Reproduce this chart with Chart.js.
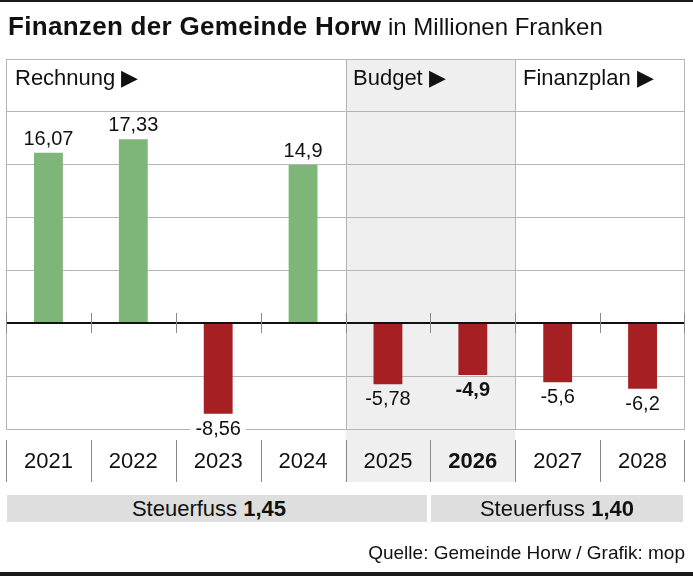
<!DOCTYPE html>
<html>
<head>
<meta charset="utf-8">
<script src="https://cdn.jsdelivr.net/npm/chart.js@4.4.1/dist/chart.umd.min.js"></script>
<style>
  body { margin: 0; background: #fff; font-family: "Liberation Sans", Arial, sans-serif; color: #111; }
  #wrap { position: relative; width: 693px; height: 576px; overflow: hidden; }
  #wrap canvas { position: absolute; left: 0; top: 0; }
  .t { position: absolute; line-height: 1; white-space: nowrap; }
  .rule { position: absolute; left: 0; width: 693px; background: #1a1a1a; }
  .tax { position: absolute; top: 495px; height: 27px; line-height: 27px; background: #dedede; font-size: 22px; text-align: center; }
</style>
</head>
<body>
<div id="wrap">
  <canvas id="myChart"></canvas>
  <div class="rule" style="top:0;height:2px"></div>
  <div class="t" style="left:8px;top:13px;font-size:26px;font-weight:bold;letter-spacing:0.3px">Finanzen der Gemeinde Horw<span style="font-size:24px;font-weight:normal;letter-spacing:0"> in Millionen Franken</span></div>
  <div class="t" id="h0" style="left:15px;top:67px;font-size:22px"></div>
  <div class="t" id="h1" style="left:353px;top:67px;font-size:22px"></div>
  <div class="t" id="h2" style="left:523px;top:67px;font-size:22px"></div>
  <div class="tax" id="tax0" style="left:7px;width:404px;padding-right:16px"></div>
  <div class="tax" id="tax1" style="left:431px;width:252px"></div>
  <div class="t" style="right:8px;top:543px;font-size:19px">Quelle: Gemeinde Horw / Grafik: mop</div>
  <div class="rule" style="top:572px;height:4px"></div>
</div>
<script>
// Finanzen der Gemeinde Horw, in Millionen Franken
const years = ['2021', '2022', '2023', '2024', '2025', '2026', '2027', '2028']
const result = [16.07, 17.33, -8.56, 14.9, -5.78, -4.9, -5.6, -6.2]
const boldYear = '2026'

const sections = ['Rechnung', 'Budget', 'Finanzplan']
const sectionStart = [0, 4, 6]

const taxLabel = 'Steuerfuss'
const taxRates = ['1,45', '1,40']

const yMin = -10
const yMax = 20
const yStep = 5

const green = 'rgb(126, 182, 121)'
const red = 'rgb(166, 32, 35)'
const font = '"Liberation Sans", Arial, sans-serif'

// text in html
sections.forEach(function (s, i) {
  document.getElementById('h' + i).textContent = s + ' \u25B6'
})
taxRates.forEach(function (r, i) {
  document.getElementById('tax' + i).innerHTML = taxLabel + ' <b>' + r + '</b>'
})

function fmt(v) {
  return String(v).replace('.', ',')
}

// grey budget column, frame lines, ticks and value labels
const horwPlugin = {
  id: 'horw',
  beforeDraw(chart) {
    const ctx = chart.ctx
    const x = chart.scales.x
    const half = (x.getPixelForValue(1) - x.getPixelForValue(0)) / 2
    const left = x.getPixelForValue(sectionStart[1]) - half
    const right = x.getPixelForValue(sectionStart[2]) - half
    ctx.save()
    ctx.fillStyle = '#fff'
    ctx.fillRect(0, 0, chart.width, chart.height)
    ctx.fillStyle = '#efefef'
    ctx.fillRect(left, 59, right - left, 482 - 59)
    ctx.restore()
  },
  beforeDatasetsDraw(chart) {
    const ctx = chart.ctx
    const a = chart.chartArea
    const x = chart.scales.x
    const y = chart.scales.y
    const half = (x.getPixelForValue(1) - x.getPixelForValue(0)) / 2
    const zero = y.getPixelForValue(0)
    ctx.save()
    ctx.strokeStyle = '#b5b5b5'
    ctx.lineWidth = 1
    ctx.beginPath()
    // header top
    ctx.moveTo(a.left, 59.5)
    ctx.lineTo(a.right, 59.5)
    // outer frame
    ctx.moveTo(Math.round(a.left) + 0.5, 59)
    ctx.lineTo(Math.round(a.left) + 0.5, a.bottom)
    ctx.moveTo(Math.round(a.right) - 0.5, 59)
    ctx.lineTo(Math.round(a.right) - 0.5, a.bottom)
    // section borders
    for (let i = 1; i < sectionStart.length; i++) {
      const px = Math.round(x.getPixelForValue(sectionStart[i]) - half) + 0.5
      ctx.moveTo(px, 59)
      ctx.lineTo(px, a.bottom)
    }
    ctx.stroke()
    // ticks on zero line and in the year row
    ctx.strokeStyle = '#8a8a8a'
    ctx.beginPath()
    for (let i = 0; i <= years.length; i++) {
      let px = Math.round(x.getPixelForValue(i) - half) + 0.5
      if (i === years.length) px -= 1
      ctx.moveTo(px, zero - 10)
      ctx.lineTo(px, zero + 10)
      ctx.moveTo(px, 440)
      ctx.lineTo(px, 482)
    }
    ctx.stroke()
    ctx.restore()
  },
  afterDatasetsDraw(chart) {
    const ctx = chart.ctx
    const y = chart.scales.y
    const meta = chart.getDatasetMeta(0)
    const gridPx = []
    for (let v = yMin; v <= yMax; v += yStep) gridPx.push(y.getPixelForValue(v))
    ctx.save()
    ctx.textAlign = 'center'
    ctx.textBaseline = 'alphabetic'
    meta.data.forEach(function (bar, i) {
      const v = result[i]
      const txt = fmt(v)
      ctx.font = (years[i] === boldYear ? 'bold ' : '') + '20px ' + font
      const base = v >= 0 ? bar.y - 8 : bar.y + 21
      const w = ctx.measureText(txt).width
      const hits = gridPx.some(function (g) { return g > base - 16 && g < base + 3 })
      if (hits) {
        ctx.fillStyle = '#fff'
        ctx.fillRect(bar.x - w / 2 - 5, base - 16, w + 10, 19)
      }
      ctx.fillStyle = '#111'
      ctx.fillText(txt, bar.x, base)
    })
    ctx.restore()
  }
}

const ctx = document.getElementById('myChart').getContext('2d')
const chart = new Chart(ctx, {
  type: 'bar',
  data: {
    labels: years,
    datasets: [{
      data: result,
      backgroundColor: result.map(function (v) { return v >= 0 ? green : red }),
      borderWidth: 0,
      categoryPercentage: 1,
      barPercentage: 0.34
    }]
  },
  options: {
    responsive: true,
    maintainAspectRatio: false,
    animation: false,
    events: [],
    layout: { padding: { left: 6, right: 8, top: 111, bottom: 0 } },
    plugins: { legend: { display: false }, tooltip: { enabled: false } },
    scales: {
      x: {
        grid: { display: false, drawTicks: false },
        border: { display: false },
        ticks: {
          padding: 20,
          color: '#111',
          maxRotation: 0,
          font: function (c) {
            return { family: font, size: 22, weight: years[c.index] === boldYear ? 'bold' : 'normal' }
          }
        },
        afterFit: function (s) { s.height = 147 }
      },
      y: {
        min: yMin,
        max: yMax,
        ticks: { stepSize: yStep, display: false },
        border: { display: false },
        grid: {
          drawTicks: false,
          color: function (c) { return c.tick.value === 0 ? '#111' : '#b5b5b5' },
          lineWidth: function (c) { return c.tick.value === 0 ? 2 : 1 }
        },
        afterFit: function (s) { s.width = 0 }
      }
    }
  },
  plugins: [horwPlugin]
})
</script>
</body>
</html>
